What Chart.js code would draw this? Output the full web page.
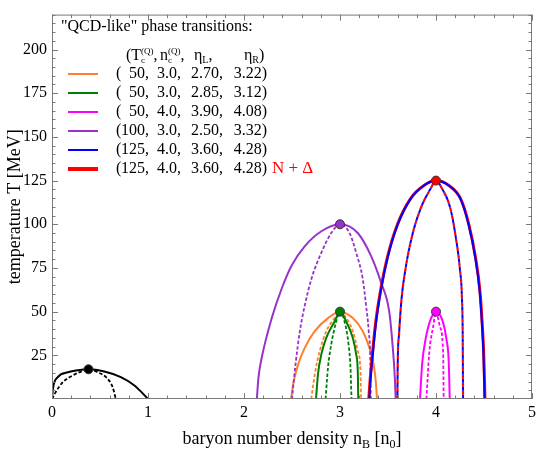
<!DOCTYPE html>
<html>
<head>
<meta charset="utf-8">
<script src="https://cdn.jsdelivr.net/npm/chart.js@4/dist/chart.umd.min.js"></script>
<style>
  html, body { margin: 0; padding: 0; background: #fff; }
</style>
</head>
<body>
<canvas id="chart" width="540" height="450"></canvas>
<script>
// axis ticks
const xTicks = [0, 1, 2, 3, 4, 5];
const yTicks = [25, 50, 75, 100, 125, 150, 175, 200];

// curves: [n_B, T]; solid = coexistence, dashed = spinodal
const nuclearSolid = [[0,0],[0.01,6],[0.06,12.5],[0.165,15.3],[0.27,16.5],[0.38,17],[0.545,15.7],[0.717,12.5],[0.855,7.9],[0.94,3.5],[1,0]];
const nuclearDashed = [[0,0],[0.03,3.2],[0.114,9.7],[0.217,13.5],[0.303,15.7],[0.38,17],[0.476,15.3],[0.579,11.6],[0.631,6.9],[0.665,0]];

const orangeSolid = [[2.49,0],[2.513,8.8],[2.565,20],[2.634,29.4],[2.737,38.8],[2.875,46.3],[3,50],[3.133,46.3],[3.237,38.8],[3.306,29.4],[3.35,20],[3.375,8.8],[3.385,0]];
const orangeDashed = [[2.70,0],[2.744,16.3],[2.789,27.5],[2.857,38.8],[2.944,46.3],[3,50],[3.064,46.3],[3.133,38.8],[3.185,27.5],[3.213,16.3],[3.22,0]];

const greenSolid = [[2.75,0],[2.771,14.4],[2.806,25.7],[2.857,35],[2.944,44.4],[3,50],[3.064,44.4],[3.133,35],[3.168,25.7],[3.186,14.4],[3.19,0]];
const greenDashed = [[2.85,0],[2.875,18.1],[2.909,31.3],[2.961,44.4],[3,50],[3.047,44.4],[3.089,31.3],[3.109,18.1],[3.12,0]];

const magentaSolid = [[3.833,0],[3.857,21],[3.891,34.1],[3.943,45.4],[4,50],[4.064,45.4],[4.109,34.1],[4.133,21],[4.143,0]];
const magentaDashed = [[3.90,0],[3.93,26.6],[3.971,41.6],[4,50],[4.04,41.6],[4.074,26.6],[4.08,0]];

const purpleSolid = [[2.134,0],[2.15,12],[2.19,25],[2.289,46.3],[2.392,63.1],[2.495,76.3],[2.634,87.5],[2.806,96],[3,100],[3.185,95],[3.323,81.9],[3.426,66.9],[3.513,50],[3.547,31.3],[3.571,12.5],[3.58,0]];
const purpleDashed = [[2.50,0],[2.537,20],[2.582,38.8],[2.634,53.8],[2.702,68.7],[2.806,83.8],[2.909,95],[3,100],[3.099,95],[3.168,83.8],[3.237,68.7],[3.271,53.8],[3.299,38.8],[3.316,20],[3.32,0]];

const blueSolid = [[3.306,0],[3.316,9.7],[3.34,24.7],[3.375,43.5],[3.426,62.2],[3.496,80.9],[3.6,99.7],[3.737,114.7],[3.875,122.2],[4,125],[4.133,122.2],[4.254,114.7],[4.34,99.7],[4.409,80.9],[4.454,62.2],[4.478,43.5],[4.495,24.7],[4.506,0]];
const blueDashed = [[3.598,0],[3.601,19.1],[3.616,37.8],[3.64,56.6],[3.685,75.3],[3.754,94],[3.84,109],[3.943,120.3],[4,125],[4.064,120.3],[4.15,109],[4.202,94],[4.247,75.3],[4.271,56.6],[4.278,37.8],[4.28,19.1],[4.282,0]];

// N + Delta version sits under the blue one
const redSolid = [[3.3,0],[3.312,9.7],[3.336,24.7],[3.371,43.5],[3.423,62.2],[3.493,80.9],[3.597,99.7],[3.735,114.7],[3.874,122.2],[4,125],[4.134,122.2],[4.256,114.7],[4.343,99.7],[4.412,80.9],[4.457,62.2],[4.481,43.5],[4.498,24.7],[4.51,0]];
const redDashed = blueDashed;

// critical points
const critN = [0.38, 3, 3, 4, 4];
const critT = [17, 50, 100, 50, 125];
const critColors = ['#000000', '#008000', '#9932cc', '#ff00ff', '#ff0000'];

// legend rows
const rowColors = ['#ff7f2a', '#008000', '#ff00ff', '#9932cc', '#0000ff', '#ff0000'];
const rowTc = ['50', '50', '50', '100', '125', '125'];
const rowNc = ['3.0', '3.0', '4.0', '3.0', '4.0', '4.0'];
const rowEtaL = ['2.70', '2.85', '3.90', '2.50', '3.60', '3.60'];
const rowEtaR = ['3.22', '3.12', '4.08', '3.32', '4.28', '4.28'];

const SERIF = '"Liberation Serif", "Times New Roman", serif';

const curve = (pts, color, width, dash, order, offset) => ({
  data: pts.map(p => ({ x: p[0], y: p[1] })),
  borderColor: color,
  borderWidth: width,
  borderDash: dash || [],
  borderDashOffset: offset || 0,
  showLine: true,
  pointRadius: 0,
  pointHoverRadius: 0,
  cubicInterpolationMode: 'monotone',
  fill: false,
  order: order
});

const DASH = [3.5, 2];

const datasets = [
  curve(nuclearSolid, '#000', 2, null, 5),
  curve(nuclearDashed, '#000', 1.8, DASH, 5),
  curve(orangeSolid, rowColors[0], 2, null, 6),
  curve(orangeDashed, rowColors[0], 1.8, DASH, 6),
  curve(greenSolid, rowColors[1], 2, null, 5),
  curve(greenDashed, rowColors[1], 1.8, DASH, 5),
  curve(magentaSolid, rowColors[2], 2, null, 5),
  curve(magentaDashed, rowColors[2], 1.8, DASH, 5),
  curve(purpleSolid, rowColors[3], 2, null, 5),
  curve(purpleDashed, rowColors[3], 1.8, DASH, 5),
  curve(redSolid, rowColors[5], 3, null, 4),
  curve(redDashed, rowColors[5], 2.2, [4, 4], 4),
  curve(blueSolid, rowColors[4], 2, null, 3),
  curve(blueDashed, rowColors[4], 2, [4, 4], 3, 4),
  {
    data: critN.map((n, i) => ({ x: n, y: critT[i] })),
    pointRadius: 4.5,
    pointBackgroundColor: critColors,
    pointBorderColor: '#333',
    pointBorderWidth: 1,
    showLine: false,
    order: 0
  }
];

function txt(ctx, s, x, y, size, align) {
  ctx.font = size + 'px ' + SERIF;
  ctx.textAlign = align || 'left';
  ctx.fillText(s, x, y);
  return x + ctx.measureText(s).width;
}

const decorations = {
  id: 'decorations',
  afterDatasetsDraw(chart) {
    const { ctx, chartArea: a, scales: { x, y } } = chart;
    ctx.save();
    // frame
    ctx.strokeStyle = '#7a7a7a';
    ctx.lineWidth = 1;
    ctx.strokeRect(a.left + 0.5, a.top + 0.5, a.right - a.left - 1, a.bottom - a.top - 1);
    // inward ticks on all four sides
    ctx.beginPath();
    for (let i = 0; i <= 25; i++) {
      const px = Math.round(x.getPixelForValue(i / 5)) + 0.5;
      const len = i % 5 === 0 ? 6 : 3.5;
      ctx.moveTo(px, a.bottom); ctx.lineTo(px, a.bottom - len);
      ctx.moveTo(px, a.top); ctx.lineTo(px, a.top + len);
    }
    for (let v = 5; v <= 220; v += 5) {
      const py = Math.round(y.getPixelForValue(v)) + 0.5;
      const len = v % 25 === 0 ? 6 : 3.5;
      ctx.moveTo(a.left, py); ctx.lineTo(a.left + len, py);
      ctx.moveTo(a.right, py); ctx.lineTo(a.right - len, py);
    }
    ctx.stroke();

    // legend block
    ctx.fillStyle = '#000';
    ctx.textBaseline = 'alphabetic';
    txt(ctx, '"QCD-like" phase transitions:', 61, 31, 16);

    // header: (Tc^(Q), nc^(Q), eta_L, eta_R)
    const hy = 60;
    let hx = txt(ctx, '(T', 126, hy, 16);
    txt(ctx, 'c', hx, hy + 3, 9);
    hx = txt(ctx, '(Q)', hx, hy - 6, 9);
    txt(ctx, ',', hx, hy, 16);
    hx = txt(ctx, 'n', 160, hy, 16);
    txt(ctx, 'c', hx, hy + 3, 9);
    hx = txt(ctx, '(Q)', hx, hy - 6, 9);
    txt(ctx, ',', hx, hy, 16);
    hx = txt(ctx, '\u03b7', 194, hy, 16);
    hx = txt(ctx, 'L', hx, hy + 3, 10);
    txt(ctx, ',', hx, hy, 16);
    hx = txt(ctx, '\u03b7', 244, hy, 16);
    hx = txt(ctx, 'R', hx, hy + 3, 10);
    txt(ctx, ')', hx, hy, 16);

    rowColors.forEach((c, i) => {
      const ry = 74 + i * 19;
      ctx.strokeStyle = c;
      ctx.lineWidth = i === 5 ? 4 : 2;
      ctx.beginPath();
      ctx.moveTo(68, ry); ctx.lineTo(98, ry);
      ctx.stroke();

      ctx.fillStyle = '#000';
      ctx.textBaseline = 'middle';
      txt(ctx, '(', 116, ry, 16);
      txt(ctx, rowTc[i] + ',', 149, ry, 16, 'right');
      txt(ctx, rowNc[i] + ',', 157, ry, 16);
      txt(ctx, rowEtaL[i] + ',', 191, ry, 16);
      txt(ctx, rowEtaR[i] + ')', 267, ry, 16, 'right');
      if (i === 5) {
        ctx.fillStyle = '#ff0000';
        txt(ctx, 'N + \u0394', 272, ry, 17);
      }
    });

    // axis titles
    ctx.fillStyle = '#000';
    ctx.textBaseline = 'alphabetic';
    ctx.font = '18px ' + SERIF;
    const w1 = ctx.measureText('baryon number density n').width;
    ctx.font = '12px ' + SERIF;
    const w2 = ctx.measureText('B').width;
    ctx.font = '18px ' + SERIF;
    const w3 = ctx.measureText(' [n').width;
    ctx.font = '12px ' + SERIF;
    const w4 = ctx.measureText('0').width;
    ctx.font = '18px ' + SERIF;
    const w5 = ctx.measureText(']').width;
    let tx = (a.left + a.right) / 2 - (w1 + w2 + w3 + w4 + w5) / 2;
    const ty = 444;
    tx = txt(ctx, 'baryon number density n', tx, ty, 18);
    tx = txt(ctx, 'B', tx, ty + 4, 12);
    tx = txt(ctx, ' [n', tx, ty, 18);
    tx = txt(ctx, '0', tx, ty + 4, 12);
    txt(ctx, ']', tx, ty, 18);

    ctx.translate(15, (a.top + a.bottom) / 2);
    ctx.rotate(-Math.PI / 2);
    ctx.textBaseline = 'middle';
    txt(ctx, 'temperature T [MeV]', 0, 0, 18, 'center');
    ctx.restore();
  }
};

new Chart(document.getElementById('chart'), {
  type: 'scatter',
  data: { datasets: datasets },
  options: {
    responsive: false,
    animation: false,
    layout: { padding: { top: 7, right: 3, left: 0, bottom: 0 } },
    plugins: { legend: { display: false }, tooltip: { enabled: false } },
    scales: {
      x: {
        type: 'linear',
        min: 0,
        max: 5,
        afterFit: s => { s.height = 51; },
        afterBuildTicks: s => { s.ticks = xTicks.map(v => ({ value: v })); },
        grid: { display: false, drawTicks: false },
        border: { display: false },
        ticks: { font: { family: SERIF, size: 16 }, color: '#000', padding: 4, maxRotation: 0 }
      },
      y: {
        type: 'linear',
        min: 0,
        max: 220,
        afterFit: s => { s.width = 52; },
        afterBuildTicks: s => { s.ticks = yTicks.map(v => ({ value: v })); },
        grid: { display: false, drawTicks: false },
        border: { display: false },
        ticks: { font: { family: SERIF, size: 16 }, color: '#000', padding: 5 }
      }
    }
  },
  plugins: [decorations]
});
</script>
</body>
</html>
